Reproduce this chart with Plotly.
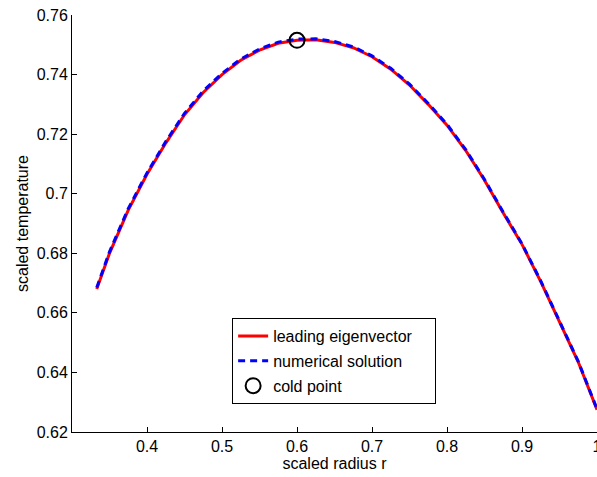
import plotly.graph_objects as go

# scaled radius
r = [0.333, 0.35, 0.375, 0.4, 0.425, 0.45, 0.475, 0.5, 0.525, 0.55, 0.575, 0.6, 0.625,
     0.65, 0.675, 0.7, 0.725, 0.75, 0.775, 0.8, 0.825, 0.85, 0.875, 0.9, 0.925, 0.95,
     0.975, 1.0]
# leading eigenvector
t_eig = [0.668, 0.680, 0.6945, 0.7065, 0.7170, 0.7265, 0.7340, 0.7400, 0.7448, 0.7482,
         0.7505, 0.7515, 0.7517, 0.7508, 0.7490, 0.7460, 0.7418, 0.7365, 0.7300, 0.7230,
         0.7145, 0.7045, 0.6935, 0.6830, 0.6705, 0.6570, 0.6435, 0.6275]
# numerical solution
t_num = [0.6685, 0.6805, 0.6950, 0.7070, 0.7175, 0.7270, 0.7345, 0.7404, 0.7452, 0.7486,
         0.7509, 0.7519, 0.7520, 0.7511, 0.7493, 0.7463, 0.7421, 0.7368, 0.7303, 0.7233,
         0.7148, 0.7048, 0.6938, 0.6832, 0.6707, 0.6572, 0.6437, 0.6277]
# cold point
cold_r = [0.6]
cold_t = [0.7515]

FONT = "Liberation Sans, Arial, sans-serif"
FS = 16
PAD = "&nbsp;&nbsp;&nbsp;&nbsp;"

fig = go.Figure()
fig.add_trace(go.Scatter(x=r, y=t_eig, mode="lines", name="leading eigenvector" + PAD,
                         legendgroup="a", line=dict(color="#ff0000", width=3)))
fig.add_trace(go.Scatter(x=r, y=t_num, mode="lines", name="numerical solution",
                         legendgroup="b", line=dict(color="#0000ff", width=3, dash="7px,5px")))
fig.add_trace(go.Scatter(x=cold_r, y=cold_t, mode="markers", name="cold point",
                         legendgroup="c",
                         marker=dict(symbol="circle-open", size=15, color="black",
                                     line=dict(width=2, color="black"))))

axis_common = dict(showline=True, linecolor="black", linewidth=1, mirror=False,
                   ticks="inside", ticklen=5, tickcolor="black", showgrid=False,
                   zeroline=False, automargin=False, ticklabeloverflow="allow",
                   tickfont=dict(size=FS, color="black"))

fig.update_xaxes(range=[0.3, 1.0],
                 tickvals=[0.4, 0.5, 0.6, 0.7, 0.8, 0.9, 1.0],
                 ticktext=["0.4", "0.5", "0.6", "0.7", "0.8", "0.9", "1"],
                 title=dict(text="scaled radius r", font=dict(size=FS, color="black"), standoff=0),
                 **axis_common)
fig.update_yaxes(range=[0.62, 0.76], dtick=0.02,
                 title=dict(text="scaled temperature", font=dict(size=FS, color="black"), standoff=4),
                 **axis_common)

fig.update_layout(
    width=597, height=477,
    margin=dict(l=72, r=0, t=15, b=45, autoexpand=False),
    paper_bgcolor="white", plot_bgcolor="white",
    font=dict(family=FONT, size=FS, color="black"),
    showlegend=True,
    legend=dict(x=0.305, y=0.273, xanchor="left", yanchor="top",
                bgcolor="white", bordercolor="black", borderwidth=1,
                font=dict(size=FS), tracegroupgap=1, itemwidth=30),
)

# drop the browser's default 8px body margin so the figure sits at the window corner
fig.write_html("out.html", config={"displayModeBar": False},
               post_script="document.body.style.margin='0';document.body.style.overflow='hidden';")
